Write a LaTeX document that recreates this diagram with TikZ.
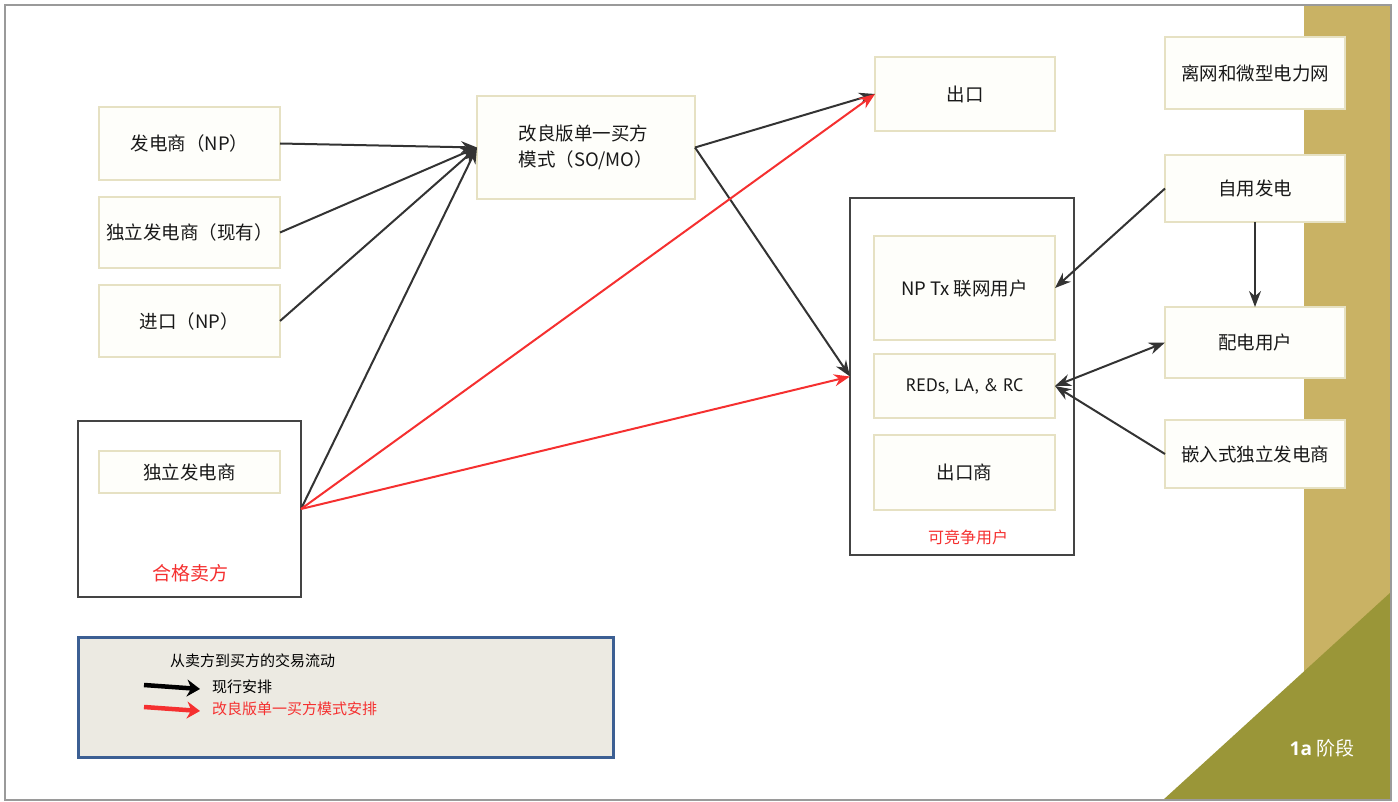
\documentclass[tikz,border=0pt]{standalone}
\usepackage{fontspec}
\setmainfont{Noto Sans CJK SC}
\newfontfamily\narrowfont{PT Sans}
\newfontfamily\opensans{Open Sans}
\usetikzlibrary{arrows.meta,calc}

\definecolor{boxline}{HTML}{E6E1C3}
\definecolor{boxfill}{HTML}{FEFEFA}
\definecolor{frameline}{HTML}{9A9A9A}
\definecolor{stripcolor}{HTML}{C9B264}
\definecolor{olivecolor}{HTML}{9A9638}
\definecolor{flowred}{HTML}{F53030}
\definecolor{legendfill}{HTML}{ECEAE2}
\definecolor{legendline}{HTML}{3C5F93}
\definecolor{groupline}{HTML}{444444}

\tikzset{
  box/.style={draw=boxline, fill=boxfill, line width=1.5pt, inner sep=0pt, outer sep=0pt,
              text=black!90, font=\fontsize{18.5}{26}\selectfont},
  group/.style={draw=groupline, fill=white, line width=2.2pt, inner sep=0pt, outer sep=0pt},
  flow/.style={draw=black!80, line width=2pt, -{Stealth[length=16pt,width=12pt]}},
  newflow/.style={flow, draw=flowred},
  redlabel/.style={text=flowred, inner sep=0pt},
  legendtext/.style={inner sep=0pt, anchor=west, font=\fontsize{15}{17}\selectfont},
  keyarrow/.style={line width=4.5pt, -{Stealth[length=13pt,width=17pt]}}
}

\begin{document}
\begin{tikzpicture}[x=1pt,y=-1pt]
\useasboundingbox (0,0) rectangle (1398,802);

% side band and stage corner
\fill[stripcolor] (1304,5) rectangle (1391,800);
\fill[olivecolor] (1163,800) -- (1391,592) -- (1391,800) -- cycle;
\node[text=white, font=\fontsize{19}{22}\selectfont, inner sep=0pt] (stage) at (1322,748)
  {{\opensans\bfseries 1a} 阶段};

% outer frame
\draw[frameline, line width=1.5pt] (5,5) rectangle (1391,800);

% group containers
\node[group, minimum width=223pt, minimum height=176pt] (sellers) at (189.5,509) {};
\node[redlabel, font=\fontsize{19}{22}\selectfont] (sellerslabel) at (190,573) {合格卖方};
\node[group, minimum width=224pt, minimum height=357pt] (buyers) at (962,376.5) {};
\node[redlabel, font=\fontsize{16}{18}\selectfont] (buyerslabel) at (968,537) {可竞争用户};

% sellers
\node[box, minimum width=181pt, minimum height=73pt] (np) at (189.5,143.5) {发电商（NP）};
\node[box, minimum width=181pt, minimum height=71pt] (ipp) at (189.5,232.5) {独立发电商（现有）};
\node[box, minimum width=181pt, minimum height=72pt] (imp) at (189.5,321) {进口（NP）};
\node[box, minimum width=181pt, minimum height=42pt] (newipp) at (189.5,472) {独立发电商};

% single buyer
\node[box, minimum width=218pt, minimum height=103pt, align=left] (somo) at (586,147.5)
  {改良版单一买方\\模式（SO/MO）};

% buyers
\node[box, minimum width=180pt, minimum height=74pt] (exp) at (965,94) {出口};
\node[box, minimum width=181pt, minimum height=104pt] (nptx) at (964.5,288) {NP Tx 联网用户};
\node[box, minimum width=181pt, minimum height=64pt, font=\narrowfont\fontsize{18}{20}\selectfont] (reds) at (964.5,386) {REDs, LA, \& RC};
\node[box, minimum width=181pt, minimum height=75pt] (exporter) at (964.5,472.5) {出口商};

% right column
\node[box, minimum width=180pt, minimum height=72pt] (offgrid) at (1255,73) {离网和微型电力网};
\node[box, minimum width=180pt, minimum height=67pt] (captive) at (1255,188.5) {自用发电};
\node[box, minimum width=180pt, minimum height=71pt] (distrib) at (1255,342.5) {配电用户};
\node[box, minimum width=180pt, minimum height=68pt] (embedded) at (1255,454) {嵌入式独立发电商};

% existing flows
\draw[flow] (np.east) -- (somo.west);
\draw[flow] (ipp.east) -- (somo.west);
\draw[flow] (imp.east) -- (somo.west);
\draw[flow] (sellers.east) -- (somo.west);
\draw[flow] (somo.east) -- (exp.west);
\draw[flow] (somo.east) -- (buyers.west);
\draw[flow] (captive.west) -- (nptx.east);
\draw[flow] (captive.south) -- (distrib.north);
\draw[flow, {Stealth[length=16pt,width=12pt]}-{Stealth[length=16pt,width=12pt]}] (reds.east) -- (distrib.west);
\draw[flow] (embedded.west) -- (reds.east);

% flows under the modified single buyer model
\draw[newflow] (sellers.east) -- (exp.west);
\draw[newflow] (sellers.east) -- (buyers.west);

% legend
\node[draw=legendline, fill=legendfill, line width=3pt, minimum width=535pt, minimum height=120pt,
      inner sep=0pt] (legend) at (345.5,697) {};
\node[legendtext] (legtitle) at (170,661) {从卖方到买方的交易流动};
\node[legendtext] (legcurrent) at (212,687) {现行安排};
\node[legendtext, text=flowred] (legnew) at (212,709) {改良版单一买方模式安排};
\coordinate (keyblack) at (144,685);
\coordinate (keyred) at (144,707);
\draw[keyarrow, draw=black] (keyblack) -- ([xshift=-12pt,yshift=-2pt]legcurrent.west);
\draw[keyarrow, draw=flowred] (keyred) -- ([xshift=-12pt,yshift=-2pt]legnew.west);
\end{tikzpicture}
\end{document}
